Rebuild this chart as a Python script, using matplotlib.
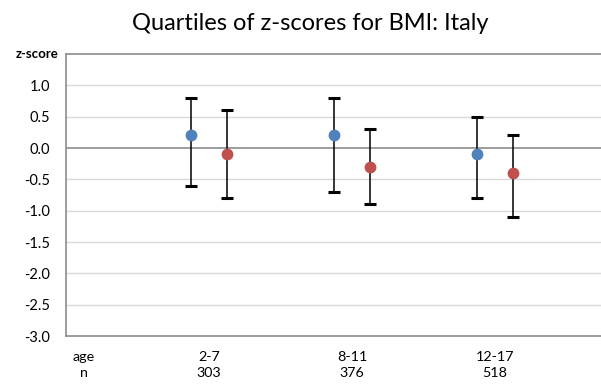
import matplotlib
matplotlib.use("Agg")
import matplotlib.pyplot as plt
import numpy as np

plt.rcParams['font.family'] = ['Lato', 'DejaVu Sans']

ages = ["2-7", "8-11", "12-17"]
ns = ["303", "376", "518"]
blue_median = [0.2, 0.2, -0.1]
blue_q3 = [0.8, 0.8, 0.5]
blue_q1 = [-0.6, -0.7, -0.8]
red_median = [-0.1, -0.3, -0.4]
red_q3 = [0.6, 0.3, 0.2]
red_q1 = [-0.8, -0.9, -1.1]
yticks = [1.0, 0.5, 0.0, -0.5, -1.0, -1.5, -2.0, -2.5, -3.0]

W, H = 601, 387
fig = plt.figure(figsize=(W / 100, H / 100), dpi=100)
left, right, top, bottom = 66, 601, 54, 336
ax = fig.add_axes([left / W, 1 - bottom / H, (right - left) / W, (bottom - top) / H])

xmax = (right - left) / 143.0
ax.set_xlim(0, xmax)
ax.set_ylim(-3.0, 1.5)

for y in yticks:
    if y == 0.0:
        ax.axhline(y, color="#8c8c8c", lw=1.2, zorder=1)
    elif y > -3.0:
        ax.axhline(y, color="#d9d9d9", lw=1.0, zorder=1)

x = np.arange(1, len(ages) + 1)
off = 18 / 143.0
for xs, med, q1, q3, col in [(x - off, blue_median, blue_q1, blue_q3, "#4f81bd"),
                             (x + off, red_median, red_q1, red_q3, "#c0504d")]:
    med = np.array(med); q1 = np.array(q1); q3 = np.array(q3)
    ax.errorbar(xs, med, yerr=[med - q1, q3 - med], fmt="none", ecolor="black",
                elinewidth=1.1, capsize=4.3, capthick=2.2, zorder=3)
    ax.plot(xs, med, "o", color=col, markersize=8.5, markeredgewidth=0, zorder=4)

ax.set_yticks(yticks)
ax.set_yticklabels([f"{v:.1f}" for v in yticks], fontsize=10.5)
ax.tick_params(axis="y", length=0, pad=11.5)
ax.set_xticks([])

for s in ["left", "top", "bottom"]:
    ax.spines[s].set_color("#8c8c8c")
    ax.spines[s].set_linewidth(1.2)
ax.spines["right"].set_visible(False)

fig.text(58 / W, 1 - 54 / H, "z-score", fontsize=9.5, fontweight="bold",
         ha="right", va="center")
fig.text(310 / W, 1 - 24 / H, "Quartiles of z-scores for BMI: Italy", fontsize=17,
         ha="center", va="center")

age_x = (84 - left) / 143.0
labels_x = [age_x] + list(x)
row1 = ["age"] + ages
row2 = ["n"] + ns
for xi, a, n in zip(labels_x, row1, row2):
    ax.annotate(a, (xi, -3.0), xytext=(0, -21), textcoords="offset pixels",
                fontsize=10.3, ha="center", va="center", annotation_clip=False)
    ax.annotate(n, (xi, -3.0), xytext=(0, -37), textcoords="offset pixels",
                fontsize=10.3, ha="center", va="center", annotation_clip=False)

fig.savefig("out.png", dpi=100)
